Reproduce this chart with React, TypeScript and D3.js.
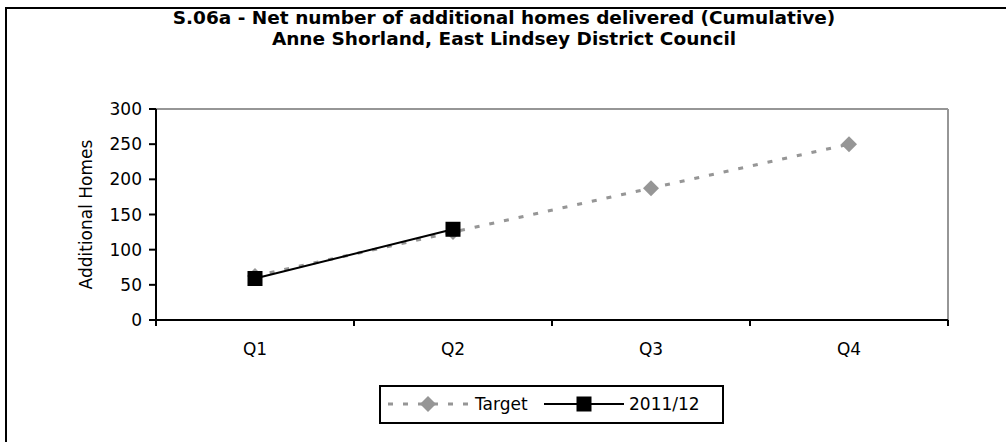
import React from "react";
import * as d3 from "d3";

const categories = ["Q1", "Q2", "Q3", "Q4"];
const targetValues = [62.5, 125, 187.5, 250];
const actualValues: (number | null)[] = [59, 129, null, null];
const yTicks = [0, 50, 100, 150, 200, 250, 300];
const titleLines = [
  "S.06a - Net number of additional homes delivered (Cumulative)",
  "Anne Shorland, East Lindsey District Council",
];

const W = 1006;
const H = 442;
const plot = { left: 156, right: 948, top: 109, bottom: 320 };
const FONT = "'DejaVu Sans', Verdana, sans-serif";
const FS = 17;

export default function App() {
  const x = d3.scaleBand<string>().domain(categories).range([plot.left, plot.right]);
  const y = d3.scaleLinear().domain([0, 300]).range([plot.bottom, plot.top]);
  const cx = (c: string) => (x(c) as number) + x.bandwidth() / 2;

  const line = d3
    .line<[string, number | null]>()
    .defined((d) => d[1] != null)
    .x((d) => cx(d[0]))
    .y((d) => y(d[1] as number));

  const targetPts = categories.map((c, i) => [c, targetValues[i]] as [string, number | null]);
  const actualPts = categories.map((c, i) => [c, actualValues[i]] as [string, number | null]);

  const boundaries = [...categories.map((c) => x(c) as number), plot.right];

  const diamond = (px: number, py: number, r: number) =>
    `M${px},${py - r}L${px + r},${py}L${px},${py + r}L${px - r},${py}Z`;

  return (
    <svg width={W} height={H} style={{ position: "absolute", left: 0, top: 0, background: "#fff" }}>
      <rect x={6} y={8} width={1100} height={600} fill="#fff" stroke="#000" strokeWidth={2} />
      {titleLines.map((t, i) => (
        <text
          key={i}
          x={504}
          y={24 + i * 21}
          textAnchor="middle"
          fontFamily={FONT}
          fontWeight="bold"
          fontSize={18.5}
          fill="#000"
        >
          {t}
        </text>
      ))}
      {/* plot frame */}
      <line x1={plot.left} x2={plot.right} y1={plot.top} y2={plot.top} stroke="#969696" strokeWidth={2} />
      <line x1={plot.right} x2={plot.right} y1={plot.top} y2={plot.bottom} stroke="#969696" strokeWidth={2} />
      {/* y axis */}
      <line x1={plot.left} x2={plot.left} y1={plot.top} y2={plot.bottom + 6} stroke="#000" strokeWidth={2} />
      {yTicks.map((t) => (
        <g key={t}>
          <line x1={plot.left - 7} x2={plot.left} y1={y(t)} y2={y(t)} stroke="#000" strokeWidth={2} />
          <text x={plot.left - 14} y={y(t)} dy="0.36em" textAnchor="end" fontFamily={FONT} fontSize={FS} fill="#000">
            {t}
          </text>
        </g>
      ))}
      <text
        transform={`translate(${92},${(plot.top + plot.bottom) / 2}) rotate(-90)`}
        textAnchor="middle"
        fontFamily={FONT}
        fontSize={FS}
        fill="#000"
      >
        Additional Homes
      </text>
      {/* x axis */}
      <line x1={plot.left} x2={plot.right} y1={plot.bottom} y2={plot.bottom} stroke="#000" strokeWidth={2} />
      {boundaries.map((b, i) => (
        <line key={i} x1={b} x2={b} y1={plot.bottom} y2={plot.bottom + 6} stroke="#000" strokeWidth={2} />
      ))}
      {categories.map((c) => (
        <text key={c} x={cx(c)} y={355} textAnchor="middle" fontFamily={FONT} fontSize={FS} fill="#000">
          {c}
        </text>
      ))}
      {/* target series */}
      <path d={line(targetPts) as string} fill="none" stroke="#969696" strokeWidth={3} strokeDasharray="5,10" />
      {targetPts.map(([c, v]) => (
        <path key={c} d={diamond(cx(c), y(v as number), 8)} fill="#969696" />
      ))}
      {/* actual series */}
      <path d={line(actualPts) as string} fill="none" stroke="#000" strokeWidth={2} />
      {actualPts
        .filter((d) => d[1] != null)
        .map(([c, v]) => (
          <rect key={c} x={cx(c) - 7.5} y={y(v as number) - 7.5} width={15} height={15} fill="#000" />
        ))}
      {/* legend */}
      <rect x={380} y={386} width={343} height={37} fill="#fff" stroke="#000" strokeWidth={2} />
      <line x1={388} x2={468} y1={404} y2={404} stroke="#969696" strokeWidth={3} strokeDasharray="5,10" />
      <path d={diamond(428, 404, 8)} fill="#969696" />
      <text x={475} y={410} fontFamily={FONT} fontSize={FS} fill="#000">
        Target
      </text>
      <line x1={544} x2={624} y1={404} y2={404} stroke="#000" strokeWidth={2} />
      <rect x={576.5} y={396.5} width={15} height={15} fill="#000" />
      <text x={629} y={410} fontFamily={FONT} fontSize={FS} fill="#000">
        2011/12
      </text>
    </svg>
  );
}
